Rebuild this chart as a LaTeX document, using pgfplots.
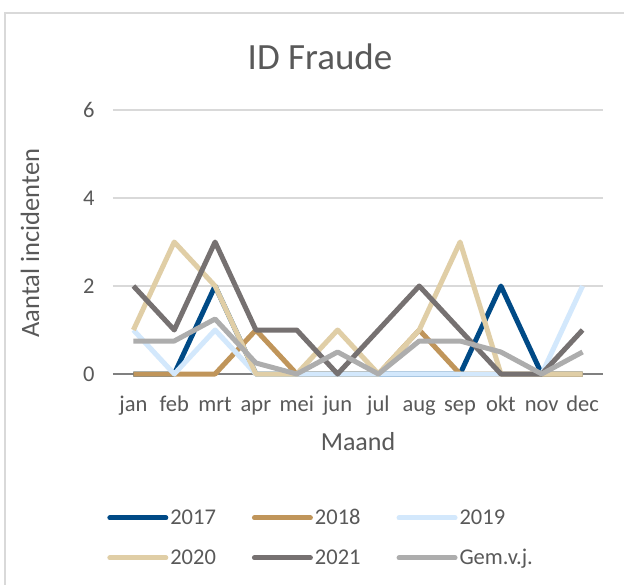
\documentclass[border=0pt]{standalone}
\usepackage{fontspec}
\setmainfont{Carlito}
\usepackage{pgfplots}
\pgfplotsset{compat=1.18}
\definecolor{c17}{HTML}{004A86}
\definecolor{c18}{HTML}{C0955A}
\definecolor{c19}{HTML}{D3E8FC}
\definecolor{c20}{HTML}{E0CEA6}
\definecolor{c21}{HTML}{767171}
\definecolor{cgem}{HTML}{ADADAD}
\definecolor{txt}{HTML}{595959}
\definecolor{grd}{HTML}{D9D9D9}
\begin{document}
\begin{tikzpicture}[x=1pt,y=1pt]
\useasboundingbox (-113,-210) rectangle (511,374);
\fill[white] (-113,-210) rectangle (511,374);
\draw[color=grd, line width=1.2pt] (-108,-212) rectangle (513,361);
\begin{axis}[at={(0,0)}, anchor=south west, scale only axis, width=490pt, height=264pt,
  xmin=-0.5, xmax=11.5, ymin=0, ymax=6,
  ytick={0,2,4,6}, xtick={0,...,11},
  xticklabels={jan,feb,mrt,apr,mei,jun,jul,aug,sep,okt,nov,dec},
  axis lines=left,
  y axis line style={draw=none},
  x axis line style={draw=gray, line width=1.2pt, -},
  major tick length=0pt,
  ymajorgrids, grid style={grd, line width=1.2pt},
  tick label style={font=\fontsize{22.5}{22.5}\selectfont, text=txt},
  /pgf/number format/assume math mode=true,
  yticklabel style={xshift=-15pt},
  xticklabel style={yshift=-27pt, text height=1.5ex, text depth=0.3ex},
  clip=false,
  legend columns=3,
  legend cell align=left,
  legend style={draw=none, fill=none, at={(-0.012,-0.505)}, anchor=north west, inner sep=0pt,
    font=\fontsize{22.5}{22.5}\selectfont, text=txt, row sep=19pt,
    /tikz/every odd column/.append style={column sep=0pt},
    /tikz/every even column/.append style={column sep=34pt}},
  legend image code/.code={\draw[#1, line cap=round] (0pt,0pt) -- (56pt,0pt);},
  every axis plot/.append style={line width=5pt, line join=round, mark=none},
]
\addplot[c17] coordinates {(0,0)(1,0)(2,2)(3,0)(4,0)(5,0)(6,0)(7,0)(8,0)(9,2)(10,0)(11,0)};
\addlegendentry{2017}
\addplot[c18] coordinates {(0,0)(1,0)(2,0)(3,1)(4,0)(5,0)(6,0)(7,1)(8,0)(9,0)(10,0)(11,0)};
\addlegendentry{2018}
\addplot[c19] coordinates {(0,1)(1,0)(2,1)(3,0)(4,0)(5,0)(6,0)(7,0)(8,0)(9,0)(10,0)(11,2)};
\addlegendentry{2019}
\addplot[c20] coordinates {(0,1)(1,3)(2,2)(3,0)(4,0)(5,1)(6,0)(7,1)(8,3)(9,0)(10,0)(11,0)};
\addlegendentry{2020}
\addplot[c21] coordinates {(0,2)(1,1)(2,3)(3,1)(4,1)(5,0)(6,1)(7,2)(8,1)(9,0)(10,0)(11,1)};
\addlegendentry{2021}
\addplot[cgem] coordinates {(0,0.75)(1,0.75)(2,1.25)(3,0.25)(4,0)(5,0.5)(6,0)(7,0.75)(8,0.75)(9,0.5)(10,0)(11,0.5)};
\addlegendentry{Gem.v.j.}
\end{axis}
\node[text=txt, font=\fontsize{37}{37}\selectfont] at (207,317) {ID Fraude};
\node[text=txt, font=\fontsize{26.5}{26.5}\selectfont, rotate=90] at (-83,131) {Aantal incidenten};
\node[text=txt, font=\fontsize{26}{26}\selectfont] at (245,-68) {Maand};
\end{tikzpicture}
\end{document}
